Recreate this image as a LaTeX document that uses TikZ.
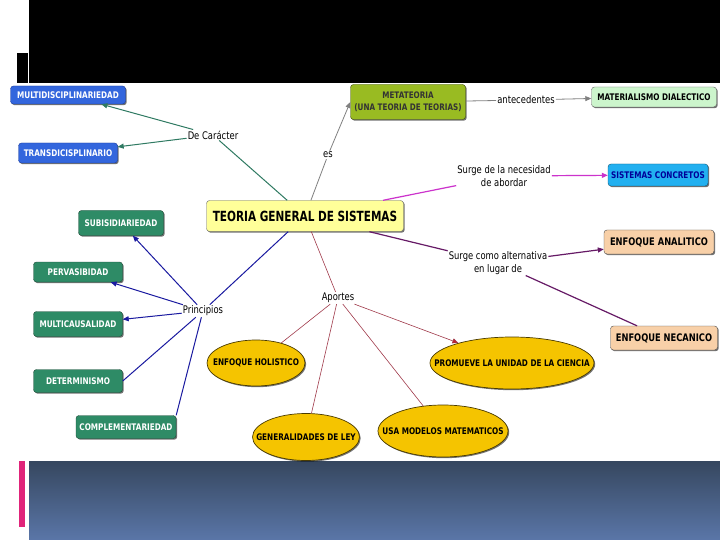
\documentclass[tikz,border=0pt]{standalone}
\usepackage{fontspec}
\setmainfont{DejaVu Sans}
\newfontfamily\nsans[FakeStretch=0.8]{DejaVu Sans}
\newfontfamily\tsans[FakeStretch=0.75]{DejaVu Sans}
\usetikzlibrary{arrows.meta,shapes.geometric,shadows}
\newcommand\zw[1]{\makebox[0pt]{#1}}
\definecolor{bluebox}{HTML}{3366DD}
\definecolor{bluedraw}{HTML}{1A3A9A}
\definecolor{greenbox}{HTML}{2E8B66}
\definecolor{greendraw}{HTML}{1E4A38}
\definecolor{metabox}{HTML}{99BB22}
\definecolor{matbox}{HTML}{CCF5CC}
\definecolor{sysbox}{HTML}{22B0F0}
\definecolor{peach}{HTML}{F8D0A8}
\definecolor{tgsbox}{HTML}{FFFF99}
\definecolor{gold}{HTML}{F5C400}
\definecolor{tealline}{HTML}{2F7A62}
\definecolor{grayline}{HTML}{808080}
\definecolor{magline}{HTML}{CC33CC}
\definecolor{purpline}{HTML}{661A66}
\definecolor{navyline}{HTML}{1A1AA0}
\definecolor{marline}{HTML}{A03A4A}
\definecolor{redtip}{HTML}{C02030}
\definecolor{bandtop}{HTML}{36475F}
\definecolor{bandbot}{HTML}{5A76A8}
\definecolor{pinkbar}{HTML}{E0247A}
\tikzset{
  shd/.style={drop shadow={shadow xshift=1.2pt, shadow yshift=-1.2pt, fill=black, opacity=0.55}},
  cbox/.style={shd, rounded corners=3pt, inner sep=0pt, align=center, font=\nsans\bfseries\fontsize{9.1}{11}\selectfont},
  lbl/.style={inner sep=1pt, align=center, font=\nsans\fontsize{10.5}{12.5}\selectfont},
  oval/.style={shd, ellipse, draw=black!70!gold, fill=gold, line width=0.7pt, inner sep=0pt, font=\nsans\bfseries\fontsize{9.1}{11}\selectfont},
  tip/.style={-{Triangle[length=6pt,width=5pt]}}
}
\begin{document}
\begin{tikzpicture}[x=1pt,y=-1pt]
\useasboundingbox (0,0) rectangle (720,540);
\fill[white] (0,0) rectangle (720,540);
\fill[black] (29,0) rectangle (720,83);
\fill[black] (17,53) rectangle (28,83);
\shade[top color=bandtop, bottom color=bandbot] (29,461) rectangle (720,540);
\fill[pinkbar] (19,461) rectangle (25,527);

% boxes
\node[cbox, fill=bluebox, draw=bluedraw, text=white, minimum width=115pt, minimum height=18pt] (multi) at (68,95) {\zw{MULTIDISCIPLINARIEDAD}};
\node[cbox, fill=bluebox, draw=bluedraw, text=white, minimum width=99pt, minimum height=20pt] (trans) at (68,153) {\zw{TRANSDICISPLINARIO}};
\node[cbox, fill=metabox, draw=black!60!metabox, text=black!80, minimum width=115pt, minimum height=35pt, font=\nsans\bfseries\fontsize{9}{11.5}\selectfont] (meta) at (408,102) {METATEORIA\\(UNA TEORIA DE TEORIAS)};
\node[cbox, fill=matbox, draw=black!60, text=black, minimum width=125pt, minimum height=20pt] (mat) at (654,97) {\zw{MATERIALISMO DIALECTICO}};
\node[cbox, fill=sysbox, draw=black!50!sysbox, text=blue!60!black, minimum width=100pt, minimum height=22pt] (sys) at (658,175) {\zw{SISTEMAS CONCRETOS}};
\node[cbox, fill=tgsbox, draw=black!60, text=black, minimum width=197pt, minimum height=31pt, font=\tsans\bfseries\fontsize{14}{16}\selectfont] (tgs) at (305,216) {\zw{TEORIA GENERAL DE SISTEMAS}};
\node[cbox, fill=greenbox, draw=greendraw, text=white, minimum width=85pt, minimum height=25pt] (subs) at (121,223) {\zw{SUBISIDIARIEDAD}};
\node[cbox, fill=greenbox, draw=greendraw, text=white, minimum width=89pt, minimum height=20pt] (perv) at (78,272) {\zw{PERVASIBIDAD}};
\node[cbox, fill=greenbox, draw=greendraw, text=white, minimum width=89pt, minimum height=25pt] (mcaus) at (78,324) {\zw{MULTICAUSALIDAD}};
\node[cbox, fill=greenbox, draw=greendraw, text=white, minimum width=89pt, minimum height=23pt] (det) at (78,381) {\zw{DETERMINISMO}};
\node[cbox, fill=greenbox, draw=greendraw, text=white, minimum width=100pt, minimum height=23pt] (comp) at (126,427) {\zw{COMPLEMENTARIEDAD}};
\node[cbox, fill=peach, draw=black!70, text=black, minimum width=110pt, minimum height=24pt, font=\nsans\bfseries\fontsize{10.4}{12}\selectfont] (anal) at (659,242) {\zw{ENFOQUE ANALITICO}};
\node[cbox, fill=peach, draw=black!70, text=black, minimum width=107pt, minimum height=24pt, font=\nsans\bfseries\fontsize{10.4}{12}\selectfont] (mec) at (664,338) {\zw{ENFOQUE NECANICO}};

% ellipses
\node[oval, minimum width=98pt, minimum height=46pt] (hol) at (256,363) {\zw{ENFOQUE HOLISTICO}};
\node[oval, minimum width=164pt, minimum height=52pt] (prom) at (512,363) {\zw{PROMUEVE LA UNIDAD DE LA CIENCIA}};
\node[oval, minimum width=107pt, minimum height=47pt] (gen) at (306,437) {\zw{GENERALIDADES DE LEY}};
\node[oval, minimum width=130pt, minimum height=52pt] (usa) at (443,431) {\zw{USA MODELOS MATEMATICOS}};

% labels
\node[lbl] (decar) at (213,135) {De Carácter};
\node[lbl] (es) at (328,155) {es};
\node[lbl] (ante) at (526,100) {antecedentes};
\node[lbl] (nec) at (504,176) {Surge de la necesidad\\de abordar};
\node[lbl] (alt) at (498,263) {Surge como alternativa\\en lugar de};
\node[lbl] (prin) at (203,311) {Principios};
\node[lbl] (apor) at (338,298) {Aportes};

% connectors
\draw[tealline, line width=1pt] (tgs) -- (decar);
\draw[tealline, line width=1pt, tip] (decar) -- (multi);
\draw[tealline, line width=1pt, tip] (decar) -- (trans);
\draw[grayline, line width=0.8pt] (tgs) -- (es);
\draw[grayline, line width=0.8pt, tip] (es) -- (meta.west);
\draw[grayline, line width=0.8pt] (meta) -- (ante);
\draw[grayline, line width=0.8pt, tip] (ante) -- (mat);
\draw[magline, line width=1.2pt] (tgs) -- (nec);
\draw[magline, line width=1.2pt, tip] (nec) -- (sys);
\draw[purpline, line width=1.2pt] (tgs) -- (alt);
\draw[purpline, line width=1.2pt, tip] (alt) -- (anal);
\draw[purpline, line width=1.2pt] (alt) -- (mec);
\draw[navyline, line width=1pt] (tgs) -- (prin);
\draw[navyline, line width=1pt, tip] (prin) -- (subs);
\draw[navyline, line width=1pt, tip] (prin) -- (perv);
\draw[navyline, line width=1pt, tip] (prin) -- (mcaus);
\draw[navyline, line width=1pt] (prin) -- (det.east);
\draw[navyline, line width=1pt] (prin) -- (comp.north east);
\draw[marline, line width=0.6pt] (tgs) -- (apor);
\draw[marline, line width=0.6pt] (apor) -- (hol);
\draw[marline, line width=0.6pt] (apor) -- (gen);
\draw[marline, line width=0.6pt] (apor) -- (usa);
\draw[marline, line width=0.6pt, -{Triangle[length=6pt,width=5pt,fill=redtip]}] (apor) -- (prom);
\end{tikzpicture}
\end{document}
